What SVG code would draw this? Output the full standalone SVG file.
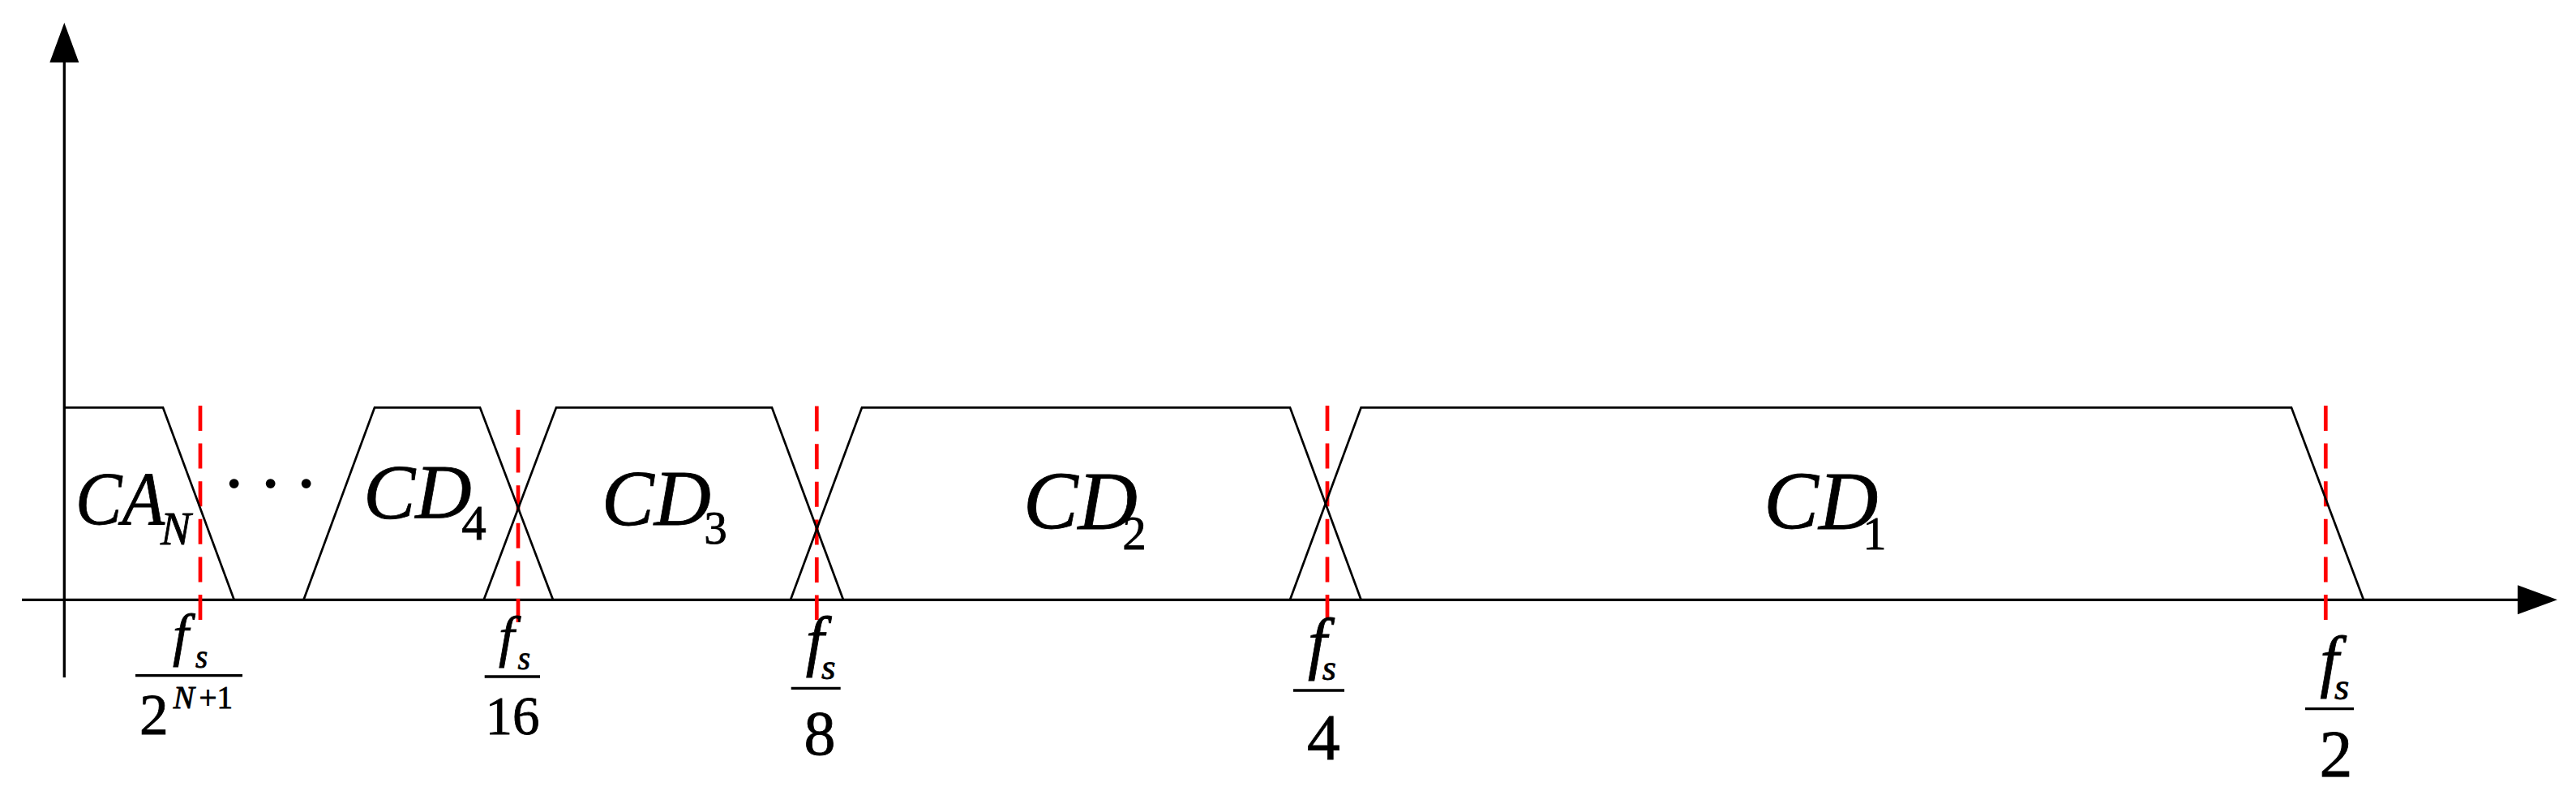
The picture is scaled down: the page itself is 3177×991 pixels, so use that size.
<svg xmlns="http://www.w3.org/2000/svg" width="3177" height="991" viewBox="0 0 3177 991">
<style>
.ax{stroke:#000;stroke-width:3.3;fill:none}
.tr{stroke:#000;stroke-width:2.7;fill:none;stroke-linejoin:miter}
.rd{stroke:#f00;stroke-width:4.7;stroke-dasharray:31 15.6;fill:none}
.fb{stroke:#000;stroke-width:3.3}
text{font-family:"Liberation Serif","Times New Roman",serif;fill:#000;stroke:#000;stroke-width:0.8;paint-order:stroke}
.i{font-style:italic}
.u{font-style:normal}
.dots{stroke:none}
</style>
<defs>
<marker id="arr" markerUnits="userSpaceOnUse" markerWidth="50" markerHeight="36" viewBox="0 0 50 36" refX="0" refY="18" orient="auto" overflow="visible">
<path d="M0,0 L49,18 L0,36 z" fill="#000"/>
</marker>
</defs>
<rect width="3177" height="991" fill="#fff"/>
<g id="connectors">
<line class="ax" x1="79.3" y1="835" x2="79.3" y2="77" marker-end="url(#arr)"/>
<line class="ax" x1="27" y1="739.3" x2="3105" y2="739.3" marker-end="url(#arr)"/>
<line class="rd" x1="247" y1="500" x2="247" y2="764"/>
<line class="rd" x1="639" y1="505" x2="639" y2="767"/>
<line class="rd" x1="1007.3" y1="500.6" x2="1007.3" y2="764"/>
<line class="rd" x1="1637" y1="500" x2="1637" y2="764"/>
<line class="rd" x1="2868.3" y1="500" x2="2868.3" y2="764"/>
</g>
<g id="band-CAN">
<polyline class="tr" points="79.3,502.3 201,502.3 288.7,739.3"/>
<text class="i" x="93" y="646" font-size="94"><tspan textLength="110" lengthAdjust="spacingAndGlyphs">CA</tspan><tspan x="198" y="670.5" font-size="56">N</tspan></text>
</g>
<g id="ellipsis">
<text class="dots" x="272 317 361" y="628.8" font-size="100">···</text>
</g>
<g id="band-CD4">
<polyline class="tr" points="374.5,739.3 462,502.3 592,502.3 682,739.3"/>
<text class="i" x="448.2" y="638.5" font-size="96">CD<tspan class="u" x="569.3" y="665" font-size="61">4</tspan></text>
</g>
<g id="band-CD3">
<polyline class="tr" points="596.7,739.3 686,502.3 952,502.3 1040,739.3"/>
<text class="i" x="742.1" y="646.5" font-size="97">CD<tspan class="u" x="868.2" y="670.2" font-size="57">3</tspan></text>
</g>
<g id="band-CD2">
<polyline class="tr" points="975,739.3 1063,502.3 1591,502.3 1678.6,739.3"/>
<text class="i" x="1261.9" y="652" font-size="101.5">CD<tspan class="u" x="1384.2" y="676.7" font-size="59">2</tspan></text>
</g>
<g id="band-CD1">
<polyline class="tr" points="1591,739.3 1678.6,502.3 2826,502.3 2915,739.3"/>
<text class="i" x="2175.2" y="652" font-size="101.5">CD<tspan class="u" x="2297.6" y="677.3" font-size="58">1</tspan></text>
</g>
<g id="label-fs-2N1">
<text class="i" x="213" y="807" font-size="71">f<tspan x="241" y="823.2" font-size="39">s</tspan></text>
<line class="fb" x1="167" y1="832.7" x2="299" y2="832.7"/>
<text x="171.9" y="905" font-size="71.5">2<tspan class="i" x="213.8" y="873" font-size="39">N</tspan><tspan x="245.5" y="873.3" font-size="39">+1</tspan></text>
</g>
<g id="label-fs-16">
<text class="i" x="615" y="808.2" font-size="70">f<tspan x="638.5" y="824.5" font-size="40">s</tspan></text>
<line class="fb" x1="597.7" y1="834" x2="666" y2="834"/>
<text x="598.5" y="904.5" font-size="67">16</text>
</g>
<g id="label-fs-8">
<text class="i" x="993.7" y="817" font-size="81.7">f<tspan x="1013.1" y="836.7" font-size="45">s</tspan></text>
<line class="fb" x1="975.7" y1="848.3" x2="1036.7" y2="848.3"/>
<text x="991.6" y="929.6" font-size="78">8</text>
</g>
<g id="label-fs-4">
<text class="i" x="1612.9" y="820.5" font-size="84.4">f<tspan x="1630.7" y="838.4" font-size="44">s</tspan></text>
<line class="fb" x1="1595" y1="851" x2="1658" y2="851"/>
<text x="1612" y="936" font-size="81.4">4</text>
</g>
<g id="label-fs-2">
<text class="i" x="2861.3" y="843.3" font-size="83.8">f<tspan x="2879" y="862.4" font-size="47">s</tspan></text>
<line class="fb" x1="2843" y1="873.7" x2="2903" y2="873.7"/>
<text x="2860.5" y="957.3" font-size="81.8">2</text>
</g>
</svg>
